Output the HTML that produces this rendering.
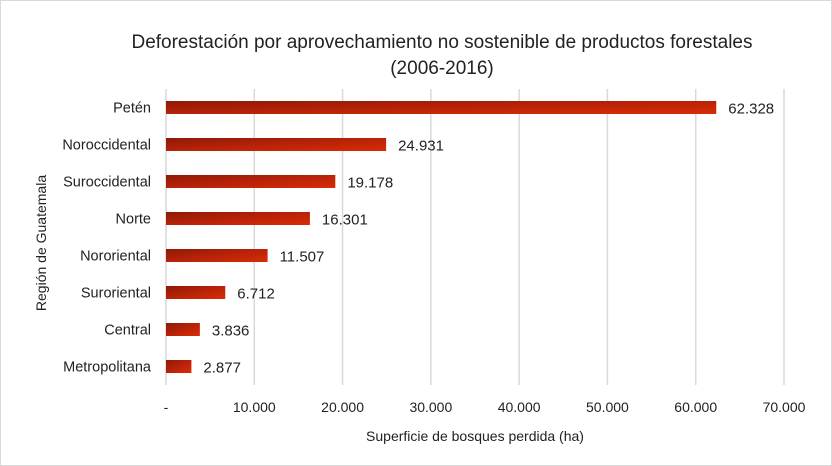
<!DOCTYPE html>
<html><head><meta charset="utf-8"><style>
html,body{margin:0;padding:0;background:#fff}
svg{display:block}
text{font-family:"Liberation Sans",sans-serif;fill:#222}
</style></head><body>
<svg width="832" height="466" viewBox="0 0 832 466">
<defs>
<linearGradient id="bg" x1="0" y1="0" x2="1" y2="1">
<stop offset="0" stop-color="#8e1a06"/><stop offset="0.5" stop-color="#b82208"/><stop offset="1" stop-color="#d92c05"/>
</linearGradient>
</defs>
<rect x="0.5" y="0.5" width="831" height="465" fill="#fff" stroke="#d9d9d9"/>
<text x="442" y="48" font-size="19" text-anchor="middle">Deforestación por aprovechamiento no sostenible de productos forestales</text>
<text x="442" y="74" font-size="19" text-anchor="middle">(2006-2016)</text>
<g id="grid"></g><g id="bars"></g><g id="ticks"></g>
<text x="475" y="441" font-size="14" text-anchor="middle">Superficie de bosques perdida (ha)</text>
<text transform="translate(46,243) rotate(-90)" font-size="14" text-anchor="middle">Región de Guatemala</text>
</svg>
<script>
const categories=["Petén","Noroccidental","Suroccidental","Norte","Nororiental","Suroriental","Central","Metropolitana"];
const values=[62328,24931,19178,16301,11507,6712,3836,2877];
const valueLabels=["62.328","24.931","19.178","16.301","11.507","6.712","3.836","2.877"];
const tickValues=[0,10000,20000,30000,40000,50000,60000,70000];
const tickLabels=["-","10.000","20.000","30.000","40.000","50.000","60.000","70.000"];
const NS="http://www.w3.org/2000/svg";
const x0=166,x1=784,xmax=70000,yTop=89,yBot=385;
const xs=v=>x0+(v/xmax)*(x1-x0);
const band=(yBot-yTop)/categories.length;
const yc=i=>yTop+band*(i+0.5);
function mk(t,a,p){const e=document.createElementNS(NS,t);for(const k in a)e.setAttribute(k,a[k]);p.appendChild(e);return e;}
const G=document.getElementById('grid'),B=document.getElementById('bars'),T=document.getElementById('ticks');
tickValues.forEach((v,i)=>{
 const l=mk('line',{x1:xs(v),x2:xs(v),y1:yTop,y2:yBot,stroke:'#d9d9d9','stroke-width':1.5},G);
 
 
 const t=mk('text',{x:xs(v),y:412,'font-size':14,'text-anchor':'middle'},T);
 t.textContent=tickLabels[i];
 
 
});
categories.forEach((c,i)=>{
 const y=yc(i);
 const r=mk('rect',{x:x0,y:y-6.5,width:xs(values[i])-x0,height:13,fill:'url(#bg)'},B);
 
 
 const lt=mk('text',{x:xs(values[i])+12,y:y+6,'font-size':15},B);
 lt.textContent=valueLabels[i];
 
 
 const ct=mk('text',{x:151,y:y+5,'font-size':14.5,'text-anchor':'end'},B);
 ct.textContent=c;
 
 
});
</script>
</body></html>
